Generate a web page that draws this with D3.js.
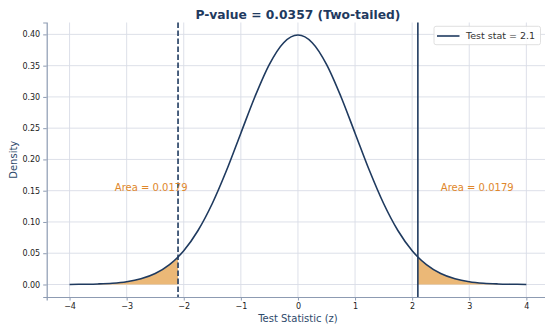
<!DOCTYPE html>
<html>
<head>
<meta charset="utf-8">
<script src="https://cdn.jsdelivr.net/npm/d3@7"></script>
<style>
  body { margin: 0; background: #fff; }
  text { font-family: 'DejaVu Sans', sans-serif; }
</style>
</head>
<body>
<svg id="chart"></svg>
<script>
// curve points (standard normal density)
const zValues = [-4, -3.75, -3.5, -3.25, -3, -2.75, -2.5, -2.25, -2.1, -2, -1.75, -1.5, -1.25, -1, -0.75, -0.5, -0.25,
  0, 0.25, 0.5, 0.75, 1, 1.25, 1.5, 1.75, 2, 2.1, 2.25, 2.5, 2.75, 3, 3.25, 3.5, 3.75, 4]
const densities = [0.0001, 0.0004, 0.0009, 0.002, 0.0044, 0.0091, 0.0175, 0.0317, 0.044, 0.054, 0.0863, 0.1295, 0.1826, 0.242, 0.3011, 0.3521, 0.3867,
  0.3989, 0.3867, 0.3521, 0.3011, 0.242, 0.1826, 0.1295, 0.0863, 0.054, 0.044, 0.0317, 0.0175, 0.0091, 0.0044, 0.002, 0.0009, 0.0004, 0.0001]
const testStat = 2.1
const tailLabels = ['Area = 0.0179', 'Area = 0.0179']
const tailLabelX = [-2.57, 3.14]
const tailLabelY = 0.15
const xTicks = [-4, -3, -2, -1, 0, 1, 2, 3, 4]
const yTicks = [0, 0.05, 0.1, 0.15, 0.2, 0.25, 0.3, 0.35, 0.4]

const navy = '#1f3a5f'
const orange = '#e0872b'

const width = 545
const height = 324
const margin = { top: 22.5, bottom: 27, left: 46.7, right: -4.2 }
const bodyWidth = width - margin.left - margin.right
const bodyHeight = height - margin.top - margin.bottom

const svg = d3.select('#chart').attr('width', width).attr('height', height)

const points = zValues.map((z, i) => ({ z, d: densities[i] }))

const xScale = d3.scaleLinear().domain([-4.4, 4.4]).range([0, bodyWidth])
const yScale = d3.scaleLinear().domain([-0.02, 0.419]).range([bodyHeight, 0])

const body = svg.append('g')
  .attr('transform', `translate(${margin.left},${margin.top})`)

// grid
body.append('g')
  .selectAll('line')
  .data(xTicks)
  .join('line')
  .attr('x1', (d) => xScale(d)).attr('x2', (d) => xScale(d))
  .attr('y1', 0).attr('y2', bodyHeight)
  .attr('stroke', '#d9dde6').attr('stroke-width', 0.9)
body.append('g')
  .selectAll('line')
  .data(yTicks)
  .join('line')
  .attr('x1', 0).attr('x2', bodyWidth)
  .attr('y1', (d) => yScale(d)).attr('y2', (d) => yScale(d))
  .attr('stroke', '#d9dde6').attr('stroke-width', 0.9)

// shaded tails
const area = d3.area()
  .x((p) => xScale(p.z))
  .y0(yScale(0))
  .y1((p) => yScale(p.d))
  .curve(d3.curveMonotoneX)

body.append('path')
  .datum(points.filter((p) => p.z <= -testStat))
  .attr('d', area)
  .attr('fill', '#ebb877')
body.append('path')
  .datum(points.filter((p) => p.z >= testStat))
  .attr('d', area)
  .attr('fill', '#ebb877')

// density curve
const line = d3.line()
  .x((p) => xScale(p.z))
  .y((p) => yScale(p.d))
  .curve(d3.curveMonotoneX)

body.append('path')
  .datum(points)
  .attr('d', line)
  .attr('fill', 'none')
  .attr('stroke', navy)
  .attr('stroke-width', 1.6)

// critical lines
body.append('line')
  .attr('x1', xScale(testStat)).attr('x2', xScale(testStat))
  .attr('y1', 0).attr('y2', bodyHeight)
  .attr('stroke', navy).attr('stroke-width', 1.6)
body.append('line')
  .attr('x1', xScale(-testStat)).attr('x2', xScale(-testStat))
  .attr('y1', 0).attr('y2', bodyHeight)
  .attr('stroke', navy).attr('stroke-width', 1.6)
  .attr('stroke-dasharray', '5.5,2.5')

// tail annotations
body.append('g')
  .selectAll('text')
  .data(tailLabels)
  .join('text')
  .attr('x', (d, i) => xScale(tailLabelX[i]))
  .attr('y', yScale(tailLabelY))
  .attr('text-anchor', 'middle')
  .attr('font-size', 10)
  .attr('fill', orange)
  .text((d) => d)

// axes
const fmtX = (d) => (d < 0 ? '\u2212' + Math.abs(d) : '' + d)
const axisX = d3.axisBottom(xScale).tickValues(xTicks).tickFormat(fmtX).tickSize(3.5).tickPadding(3)
const axisY = d3.axisLeft(yScale).tickValues(yTicks).tickFormat(d3.format('.2f')).tickSize(3.5).tickPadding(3)

const gx = svg.append('g')
  .attr('transform', `translate(${margin.left},${margin.top + bodyHeight})`)
  .call(axisX)
const gy = svg.append('g')
  .attr('transform', `translate(${margin.left},${margin.top})`)
  .call(axisY)

for (const g of [gx, gy]) {
  g.select('.domain').attr('stroke', '#8d9bb2').attr('stroke-width', 1.2)
  g.selectAll('.tick line').attr('stroke', '#8d9bb2')
  g.selectAll('.tick text').attr('font-size', 8).attr('fill', '#222').attr('font-family', 'DejaVu Sans')
}

// legend
const legend = svg.append('g').attr('transform', 'translate(434,26.3)')
legend.append('rect')
  .attr('width', 106.5).attr('height', 18.4).attr('rx', 2)
  .attr('fill', '#fff').attr('fill-opacity', 0.85)
  .attr('stroke', '#d8d8d8').attr('stroke-width', 0.8)
legend.append('line')
  .attr('x1', 3).attr('x2', 25.5).attr('y1', 9.7).attr('y2', 9.7)
  .attr('stroke', navy).attr('stroke-width', 1.6)
legend.append('text')
  .attr('x', 32).attr('y', 13.2)
  .attr('font-size', 9.5).attr('fill', '#333')
  .text('Test stat = ' + testStat)

// title and labels
svg.append('text')
  .attr('x', margin.left + xScale(0)).attr('y', 19)
  .attr('text-anchor', 'middle')
  .attr('font-size', 12.3).attr('font-weight', 'bold').attr('fill', navy)
  .text('P-value = 0.0357 (Two-tailed)')

svg.append('text')
  .attr('x', margin.left + xScale(0)).attr('y', 322)
  .attr('text-anchor', 'middle')
  .attr('font-size', 10).attr('fill', '#2e4a6b')
  .text('Test Statistic (z)')

svg.append('text')
  .attr('transform', `translate(17,${margin.top + bodyHeight / 2}) rotate(-90)`)
  .attr('text-anchor', 'middle')
  .attr('font-size', 10).attr('fill', '#2e4a6b')
  .text('Density')
</script>
</body>
</html>
